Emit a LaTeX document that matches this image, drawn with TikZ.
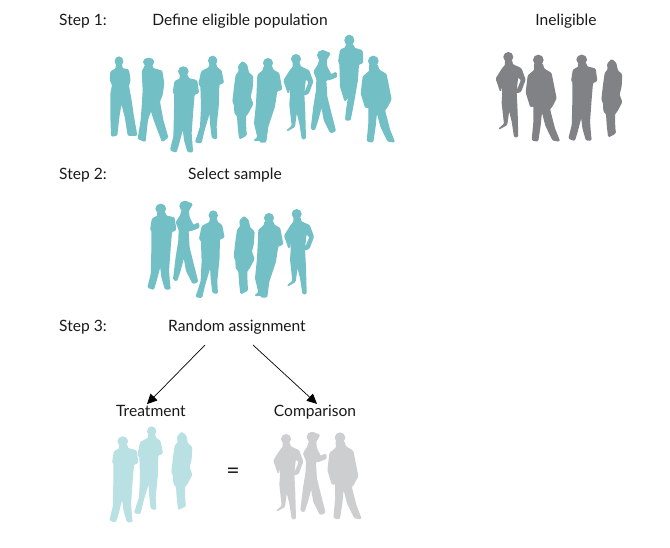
\documentclass[tikz,border=0pt]{standalone}
\usepackage{fontspec}
\setmainfont{Lato}
\usetikzlibrary{arrows.meta,calc}
\definecolor{teal1}{HTML}{72BFC6}
\definecolor{gray1}{HTML}{808285}
\definecolor{teal2}{HTML}{B9E0E3}
\definecolor{gray2}{HTML}{CDCED0}
\tikzset{
  lbl/.style={font=\fontsize{15.6}{18}\selectfont,text=black!90,inner sep=0pt,anchor=base},
  link/.style={draw=black,line width=0.7pt,-{Triangle[length=10pt,width=9.5pt]}},
  body/.style={rounded corners=1pt}
}
\newcommand\pplA{% arms crossed
 \filldraw (57,94) ellipse [x radius=11,y radius=13];
 \filldraw[body] (50,104)--(65,104)--(66,116)--(85,120)--(90,150)--(85,168)--(92,205)--(100,260)--(110,316)--(85,316)--(76,260)--(64,215)--(57,255)--(50,316)--(35,318)--(33,260)--(33,190)--(38,165)--(31,150)--(33,125)--(48,117)--cycle;}
\newcommand\pplB{% wide stance
 \filldraw (146,96) ellipse [x radius=15,y radius=11];
 \filldraw[body] (138,103)--(155,103)--(158,116)--(185,123)--(191,160)--(186,195)--(178,215)--(188,270)--(203,322)--(187,334)--(163,270)--(153,238)--(142,270)--(135,334)--(115,326)--(124,270)--(127,230)--(130,180)--(127,125)--cycle;}
\newcommand\pplC{% short sleeves, cap
 \filldraw (250,124) ellipse [x radius=14,y radius=13];
 \filldraw[body] (240,135)--(262,135)--(265,146)--(290,152)--(295,188)--(282,193)--(278,240)--(273,310)--(276,350)--(278,365)--(264,365)--(254,330)--(249,290)--(236,340)--(228,366)--(212,360)--(222,320)--(224,240)--(224,188)--(220,188)--(225,155)--(242,146)--cycle;}
\newcommand\pplD{% t-shirt
 \filldraw (338,92) ellipse [x radius=12,y radius=13];
 \filldraw[body] (330,102)--(347,102)--(350,113)--(363,122)--(370,158)--(356,163)--(355,220)--(348,290)--(350,326)--(337,323)--(332,280)--(330,240)--(312,300)--(303,338)--(287,336)--(302,290)--(305,230)--(303,168)--(297,163)--(305,125)--(328,113)--cycle;}
\newcommand\pplE{% woman, long hair
 \filldraw[body] (416,108)--(428,95)--(440,105)--(445,128)--(458,140)--(456,175)--(450,200)--(458,222)--(443,250)--(436,258)--(437,300)--(439,315)--(425,323)--(419,326)--(415,290)--(413,258)--(405,250)--(404,225)--(399,215)--(404,170)--(409,135)--(418,125)--cycle;}
\newcommand\pplF{% man, jacket
 \filldraw (504,99) ellipse [x radius=13,y radius=13];
 \filldraw[body] (492,110)--(516,110)--(518,120)--(536,130)--(545,178)--(530,183)--(523,230)--(503,290)--(497,336)--(480,336)--(489,285)--(495,250)--(486,290)--(481,330)--(462,332)--(474,322)--(464,280)--(470,220)--(472,180)--(474,135)--(490,122)--cycle;}
\newcommand\pplG{% hands on hips
 \filldraw (588,87) ellipse [x radius=13,y radius=13];
 \filldraw[body] (580,98)--(598,98)--(600,110)--(626,122)--(638,155)--(625,190)--(612,195)--(628,156)--(616,145)--(611,190)--(614,250)--(616,326)--(607,326)--(600,280)--(590,240)--(583,290)--(560,303)--(577,288)--(570,225)--(572,192)--(568,150)--(565,190)--(552,152)--(572,120)--(580,112)--cycle;}
\newcommand\pplH{% woman with cap, gesturing
 \filldraw (668,76) ellipse [x radius=15,y radius=14];
 \filldraw[body] (665,62)--(690,70)--(678,90)--(680,110)--(693,135)--(708,127)--(710,140)--(690,148)--(677,150)--(680,200)--(695,260)--(706,303)--(692,308)--(673,270)--(665,225)--(653,270)--(643,300)--(634,296)--(642,230)--(650,180)--(651,147)--(642,125)--(655,105)--(660,88)--cycle;}
\newcommand\pplI{% man with bent leg
 \filldraw (748,31) ellipse [x radius=13,y radius=15];
 \filldraw[body] (738,45)--(760,45)--(762,55)--(786,62)--(788,98)--(775,103)--(772,150)--(758,230)--(750,270)--(737,270)--(740,240)--(747,195)--(735,213)--(722,170)--(720,100)--(716,95)--(722,60)--(738,53)--cycle;}
\newcommand\pplJ{% man, big jacket
 \filldraw (820,93) ellipse [x radius=14,y radius=14];
 \filldraw[body] (808,105)--(832,105)--(836,120)--(858,133)--(873,208)--(860,233)--(853,240)--(868,298)--(883,336)--(864,333)--(843,290)--(830,240)--(825,290)--(818,336)--(802,333)--(807,280)--(807,230)--(797,233)--(784,190)--(790,140)--(810,123)--cycle;}
\newcommand\placeppl[4]{\begin{scope}[shift={(#1,#2)},x=0.33333pt,y=-0.33333pt,fill=#3,draw=#3,line width=1.3pt,line join=round]#4\end{scope}}
\begin{document}
\begin{tikzpicture}[x=1pt,y=-1pt]
\useasboundingbox (0,0) rectangle (670,548);
% Step 1
\placeppl{100}{30}{teal1}{\pplA\pplB\pplC\pplD\pplE\pplF\pplG\pplH\pplI\pplJ}
% Ineligible
\placeppl{312.3}{28}{gray1}{\pplG}
\placeppl{265}{29}{gray1}{\pplJ}
\placeppl{498.4}{18.3}{gray1}{\pplC}
\placeppl{469}{28}{gray1}{\pplE}
% Step 2
\placeppl{77.4}{167.3}{teal1}{\pplC}
\placeppl{-37.7}{180.7}{teal1}{\pplH}
\placeppl{100.6}{184.7}{teal1}{\pplD}
\placeppl{101.3}{185}{teal1}{\pplE}
\placeppl{101}{185}{teal1}{\pplF}
\placeppl{100.7}{185}{teal1}{\pplG}
% Treatment
\placeppl{39.4}{400}{teal2}{\pplC}
\placeppl{39}{400.7}{teal2}{\pplD}
\placeppl{39}{400.7}{teal2}{\pplE}
% Comparison
\placeppl{90}{410}{gray2}{\pplG}
\placeppl{89.6}{411.7}{gray2}{\pplH}
\placeppl{66.7}{406.7}{gray2}{\pplJ}
% Labels
\node[lbl,anchor=base west] (s1) at (59,25.5) {Step 1:};
\node[lbl] (def) at (240,25.5) {Define eligible population};
\node[lbl] (inel) at (566,25.5) {Ineligible};
\node[lbl,anchor=base west] (s2) at (59,179.5) {Step 2:};
\node[lbl] (sel) at (235,179.5) {Select sample};
\node[lbl,anchor=base west] (s3) at (59,331.5) {Step 3:};
\node[lbl] (rand) at (237,331.5) {Random assignment};
\node[lbl] (treat) at (151,416.5) {Treatment};
\node[lbl] (comp) at (315,416.5) {Comparison};
\node[lbl,font=\fontsize{23}{25}\selectfont] (eq) at (233,478) {=};
% Arrows
\coordinate (r1) at (205,345);
\coordinate (r2) at (253,345);
\draw[link] (r1) -- ($(treat.north)+(-4,-1)$);
\draw[link] (r2) -- ($(comp.north)+(2,-1)$);
\end{tikzpicture}
\end{document}
